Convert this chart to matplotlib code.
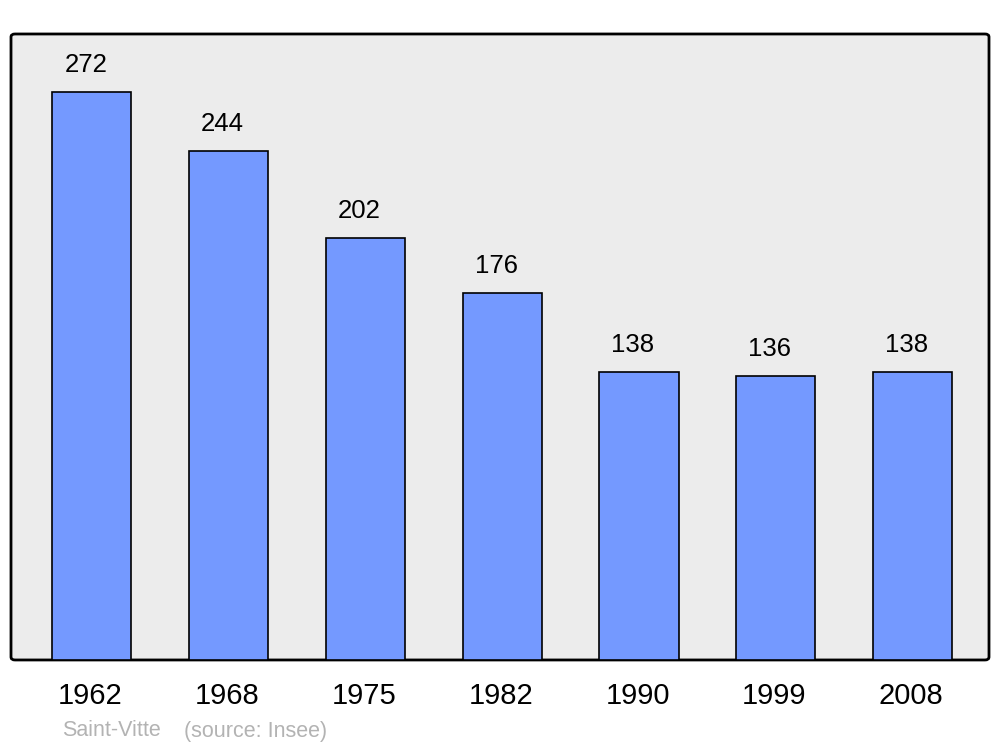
import matplotlib.pyplot as plt
from matplotlib.patches import FancyBboxPatch

years = ["1962", "1968", "1975", "1982", "1990", "1999", "2008"]
population = [272, 244, 202, 176, 138, 136, 138]
commune = "Saint-Vitte"
source = "(source: Insee)"

plt.rcParams['font.family'] = ['Liberation Sans', 'DejaVu Sans']

fig = plt.figure(figsize=(10, 7.47), dpi=100)
ax = fig.add_axes([0.011, 0.1165, 0.978, 0.838])
ax.set_facecolor('none')

# rounded grey frame behind the axes
frame = FancyBboxPatch((0.011, 0.1165), 0.978, 0.838,
                       boxstyle="round,pad=0,rounding_size=0.004",
                       transform=fig.transFigure, facecolor='#ececec',
                       edgecolor='black', linewidth=2, zorder=-1)
fig.patches.append(frame)

x = list(range(len(years)))
ax.bar(x, population, width=0.578, color='#7499ff', edgecolor='black',
       linewidth=1.2, zorder=2)

for i, v in enumerate(population):
    ax.annotate(str(v), xy=(i, v), xytext=(-6, 27), textcoords='offset pixels',
                ha='center', va='center', fontsize=18.5)
    ax.annotate(years[i], xy=(i, 0), xycoords=('data', 'axes fraction'),
                xytext=(-1.5, -36), textcoords='offset pixels',
                ha='center', va='center', fontsize=21, annotation_clip=False)

ax.set_xlim(-0.592, 6.559)
ax.set_ylim(0, 300)
ax.set_xticks([])
ax.set_yticks([])
for s in ax.spines.values():
    s.set_visible(False)

fig.text(0.062, 1 - 731 / 747, commune, fontsize=15.5, color='#b3b3b3',
         ha='left', va='center')
fig.text(0.184, 1 - 731 / 747, source, fontsize=15.5, color='#b3b3b3',
         ha='left', va='center')

fig.savefig('out.png', dpi=100)
